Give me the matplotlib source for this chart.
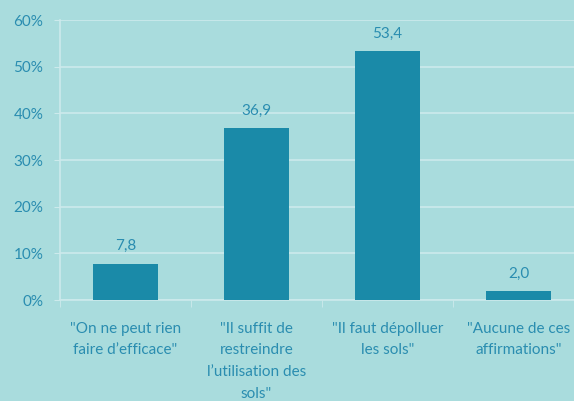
import matplotlib
matplotlib.use("Agg")
import matplotlib.pyplot as plt
import numpy as np

# ─── Data ─────────────────────────────────────────────────────────────────────

CATEGORIES = [
    "\"On ne peut rien\nfaire d\u2019efficace\"",
    "\"Il suffit de\nrestreindre\nl\u2019utilisation des\nsols\"",
    "\"Il faut dépolluer\nles sols\"",
    "\"Aucune de ces\naffirmations\"",
]
VALUES = [7.8, 36.9, 53.4, 2.0]
YTICKS = [0, 10, 20, 30, 40, 50, 60]

BG = "#a9dcdd"
BAR = "#1a8aa8"
TXT = "#2a8db0"
GRID = "#cdeaec"
FS = 11

plt.rcParams["font.family"] = ["Lato", "DejaVu Sans"]

fig = plt.figure(figsize=(5.74, 4.01), dpi=100, facecolor=BG)
ax = fig.add_axes([60 / 574, 101 / 401, 524 / 574, 280 / 401])
ax.set_facecolor(BG)

x = np.arange(len(VALUES))
bars = ax.bar(x, VALUES, width=0.5, color=BAR, zorder=3)

for b, v in zip(bars, VALUES):
    ax.text(b.get_x() + b.get_width() / 2, v + 2.2, f"{v:.1f}".replace(".", ","),
            ha="center", va="bottom", color=TXT, fontsize=FS)

ax.set_xlim(-0.5, len(VALUES) - 0.5)
ax.set_ylim(0, 60)
ax.set_yticks(YTICKS)
ax.set_yticklabels([f"{t}%" for t in YTICKS])
ax.yaxis.grid(True, color=GRID, linewidth=1.2, zorder=0)

ax.set_xticks(x)
ax.set_xticklabels(CATEGORIES, color=TXT, fontsize=FS, linespacing=1.72)
ax.tick_params(axis="x", length=0, pad=15.5)
ax.set_xticks(np.arange(len(VALUES) + 1) - 0.5, minor=True)
ax.tick_params(axis="x", which="minor", length=5, color=GRID)
ax.tick_params(axis="y", length=4, color=GRID, labelcolor=TXT, labelsize=FS, pad=8)

for s in ["top", "right"]:
    ax.spines[s].set_visible(False)
for s in ["left", "bottom"]:
    ax.spines[s].set_color(GRID)
    ax.spines[s].set_linewidth(1.2)

plt.savefig("out.png", dpi=100, facecolor=BG)
